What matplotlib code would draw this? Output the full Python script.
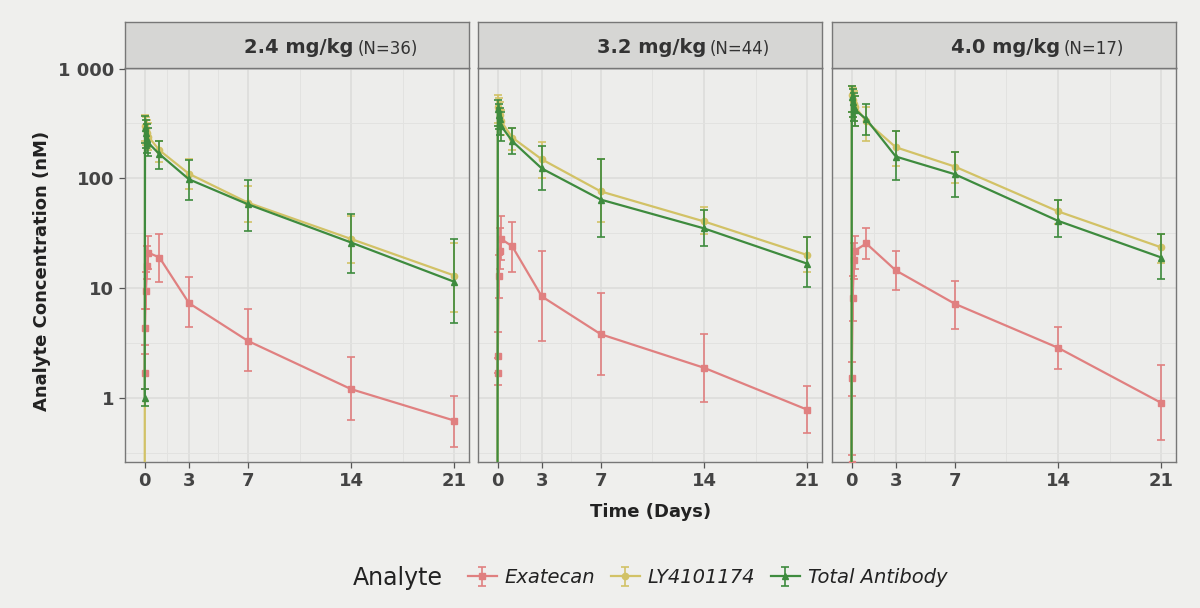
import numpy as np
import matplotlib.pyplot as plt
from matplotlib.ticker import FixedLocator, NullFormatter

# sampling times (days)
times = [0, 0.02, 0.08, 0.17, 0.25, 1, 3, 7, 14, 21]

panels = ["2.4 mg/kg", "3.2 mg/kg", "4.0 mg/kg"]
panel_n = ["(N=36)", "(N=44)", "(N=17)"]
analytes = ["Exatecan", "LY4101174", "Total Antibody"]

# 2.4 mg/kg
exa_24 = [1.7, 4.3, 9.5, 16, 21, 19, 7.3, 3.3, 1.2, 0.62]
exa_24_lo = [1.2, 3.0, 6.5, 12, 15, 11.4, 4.4, 1.76, 0.63, 0.36]
exa_24_hi = [2.5, 6.5, 14, 24, 30, 30.8, 12.7, 6.4, 2.37, 1.04]
ly_24 = [0.1, 300, 280, 260, 240, 180, 110, 60, 28, 13]
ly_24_lo = [0.01, 220, 200, 190, 180, 140, 80, 40, 17, 6]
ly_24_hi = [0.2, 380, 360, 340, 320, 220, 150, 85, 45, 26]
tab_24 = [1.0, 290, 260, 230, 210, 166, 98, 58, 26, 11.4]
tab_24_lo = [0.85, 210, 190, 170, 160, 121, 64, 33, 13.8, 4.8]
tab_24_hi = [1.2, 370, 340, 310, 290, 218, 146, 97, 47, 27.8]

# 3.2 mg/kg
exa_32 = [1.7, 2.4, 13, 22, 28, 24, 8.4, 3.8, 1.88, 0.78]
exa_32_lo = [1.3, 1.7, 8.2, 15, 18, 14, 3.3, 1.62, 0.92, 0.48]
exa_32_hi = [2.3, 4.0, 20, 35, 45, 40, 21.6, 9.1, 3.84, 1.29]
ly_32 = [0.1, 450, 420, 380, 330, 235, 149, 76, 40.5, 20]
ly_32_lo = [0.01, 320, 300, 280, 250, 180, 100, 40, 31, 14]
ly_32_hi = [0.2, 570, 540, 500, 420, 290, 213, 150, 55, 29]
tab_32 = [0.1, 426, 380, 346, 300, 218, 123, 64, 35, 16.7]
tab_32_lo = [0.01, 300, 280, 250, 220, 166, 78, 29, 24, 10.3]
tab_32_hi = [0.2, 520, 480, 440, 400, 290, 195, 149, 51, 29]

# 4.0 mg/kg
exa_40 = [0.25, 1.52, 8.2, 18, 22, 25.5, 14.5, 7.2, 2.86, 0.90]
exa_40_lo = [0.2, 1.05, 5, 12, 15, 18.6, 9.7, 4.27, 1.84, 0.41]
exa_40_hi = [0.3, 2.1, 13, 26, 30, 35, 21.6, 11.7, 4.45, 2.0]
ly_40 = [0.1, 580, 520, 480, 450, 330, 192, 128, 50, 23.5]
ly_40_lo = [0.01, 400, 360, 330, 300, 220, 130, 90, 38, 17]
ly_40_hi = [0.2, 700, 660, 620, 560, 450, 270, 175, 64, 31]
tab_40 = [0.1, 550, 495, 450, 420, 346, 158, 109, 41, 19]
tab_40_lo = [0.01, 400, 360, 330, 300, 250, 96, 68, 29.5, 12]
tab_40_hi = [0.2, 700, 650, 600, 560, 475, 268, 172, 63, 31]

data = [
    [(exa_24, exa_24_lo, exa_24_hi), (ly_24, ly_24_lo, ly_24_hi), (tab_24, tab_24_lo, tab_24_hi)],
    [(exa_32, exa_32_lo, exa_32_hi), (ly_32, ly_32_lo, ly_32_hi), (tab_32, tab_32_lo, tab_32_hi)],
    [(exa_40, exa_40_lo, exa_40_hi), (ly_40, ly_40_lo, ly_40_hi), (tab_40, tab_40_lo, tab_40_hi)],
]

colors = ["#E08080", "#D2C266", "#3E8B3E"]
markers = ["s", "o", "^"]

x_ticks = [0, 3, 7, 14, 21]
x_minor = [1.5, 5, 10.5, 17.5]
y_ticks = [1, 10, 100, 1000]
y_ticklabels = ["1", "10", "100", "1 000"]

bg = "#EFEFED"
fig = plt.figure(figsize=(12, 6.08), dpi=100, facecolor=bg)

lefts = [0.104, 0.398, 0.693]
bottom, height, width = 0.240, 0.648, 0.287
strip_h = 0.0757

handles = []
for i in range(3):
    ax = fig.add_axes([lefts[i], bottom, width, height])
    ax.set_facecolor("#EDEDEB")
    ax.set_yscale("log")
    ax.set_xlim(-1.35, 22.0)
    ax.set_ylim(0.26, 1010)

    ax.xaxis.set_major_locator(FixedLocator(x_ticks))
    ax.xaxis.set_minor_locator(FixedLocator(x_minor))
    ax.yaxis.set_major_locator(FixedLocator(y_ticks))
    ax.yaxis.set_minor_locator(FixedLocator([0.316, 3.16, 31.6, 316]))
    ax.yaxis.set_minor_formatter(NullFormatter())
    ax.grid(which="major", color="#DCDCDA", lw=1.1)
    ax.grid(which="minor", color="#E2E2E0", lw=0.7)
    ax.set_axisbelow(True)
    ax.tick_params(which="minor", length=0)
    ax.tick_params(which="major", length=4, color="#555555", width=0.9)

    ax.set_xticklabels([str(t) for t in x_ticks], fontsize=13, fontweight="bold", color="#444444")
    if i == 0:
        ax.set_yticklabels(y_ticklabels, fontsize=13, fontweight="bold", color="#444444")
    else:
        ax.set_yticklabels([])
        ax.tick_params(axis="y", length=0)

    for s in ax.spines.values():
        s.set_color("#777777")
        s.set_linewidth(1.0)

    for j, (m, lo, hi) in enumerate(data[i]):
        m = np.array(m)
        err = [m - np.array(lo), np.array(hi) - m]
        h = ax.errorbar(times, m, yerr=err, color=colors[j], marker=markers[j],
                        markersize=4.5, lw=1.6, elinewidth=1.2, capsize=3, capthick=1.2,
                        zorder=3 + j, label=analytes[j])
        if i == 0:
            handles.append(h)

    # facet strip
    sax = fig.add_axes([lefts[i], bottom + height, width, strip_h])
    sax.set_facecolor("#D6D6D4")
    sax.set_xticks([])
    sax.set_yticks([])
    for s in sax.spines.values():
        s.set_color("#777777")
        s.set_linewidth(1.0)
    sax.text(0.663, 0.45, panels[i], ha="right", va="center", fontsize=14,
             fontweight="bold", color="#333333", transform=sax.transAxes)
    sax.text(0.675, 0.42, panel_n[i], ha="left", va="center", fontsize=12,
             color="#333333", transform=sax.transAxes)

fig.text(0.542, 0.158, "Time (Days)", ha="center", va="center", fontsize=13,
         fontweight="bold", color="#222222")
fig.text(0.035, 0.555, "Analyte Concentration (nM)", ha="center", va="center",
         rotation=90, fontsize=13, fontweight="bold", color="#222222")

fig.text(0.294, 0.050, "Analyte", ha="left", va="center", fontsize=17, color="#222222")
leg = fig.legend(handles=handles, loc="center left", bbox_to_anchor=(0.375, 0.050),
                 ncol=3, frameon=False, fontsize=14, handlelength=1.5,
                 handletextpad=0.4, columnspacing=0.8)
for t in leg.get_texts():
    t.set_fontstyle("italic")
    t.set_color("#222222")

fig.savefig("out.png", dpi=100, facecolor=bg)
